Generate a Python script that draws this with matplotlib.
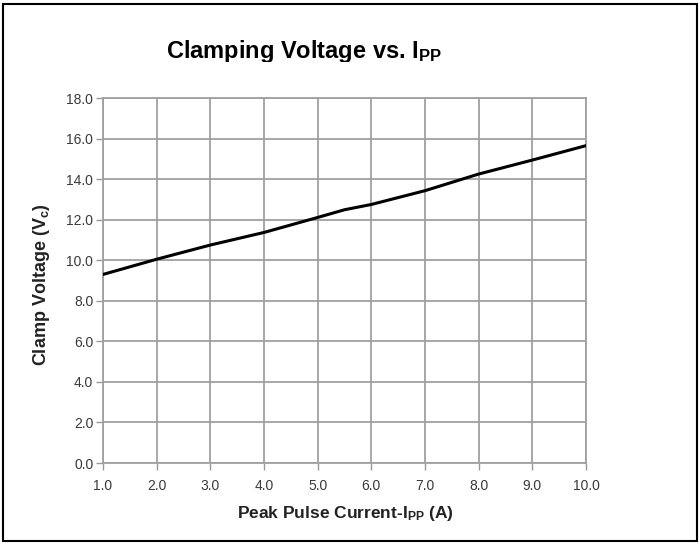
import matplotlib
matplotlib.use("Agg")
import matplotlib.pyplot as plt
from matplotlib.patches import Rectangle
from matplotlib.transforms import Bbox

plt.rcParams["font.family"] = ["Liberation Sans", "DejaVu Sans"]
plt.rcParams["mathtext.fontset"] = "custom"
plt.rcParams["mathtext.rm"] = "Liberation Sans:bold"
plt.rcParams["mathtext.default"] = "rm"

# peak pulse current (A) vs clamp voltage (V)
current = [1.0, 2.0, 3.0, 4.0, 5.0, 5.5, 6.0, 7.0, 7.5, 8.0, 9.0, 10.0]
clamp_v = [9.30, 10.05, 10.75, 11.37, 12.11, 12.49, 12.75, 13.43, 13.84, 14.25, 14.94, 15.65]

x_ticks = [1.0, 2.0, 3.0, 4.0, 5.0, 6.0, 7.0, 8.0, 9.0, 10.0]
y_ticks = [0.0, 2.0, 4.0, 6.0, 8.0, 10.0, 12.0, 14.0, 16.0, 18.0]

fig = plt.figure(figsize=(6.99, 5.43), dpi=100)
ax = fig.add_axes([0.1474, 0.1473, 0.6909, 0.6722])

ax.plot(current, clamp_v, color="black", linewidth=2.2, zorder=3)

ax.set_xlim(1.0, 10.0)
ax.set_ylim(0.0, 18.0)
ax.set_xticks(x_ticks)
ax.set_yticks(y_ticks)
ax.set_xticklabels(["%.1f" % v for v in x_ticks], fontsize=10, color="#3a3a3a")
ax.set_yticklabels(["%.1f" % v for v in y_ticks], fontsize=10, color="#3a3a3a")
ax.tick_params(direction="out", length=5, width=1, color="#999999")
ax.tick_params(axis="x", pad=6.5)
ax.tick_params(axis="y", pad=2)

ax.grid(True, color="#a0a0a0", linewidth=1.3)
for s in ax.spines.values():
    s.set_color("#a0a0a0")
    s.set_linewidth(1.3)

# axis labels placed in figure coords
fig.text(0.494, 0.0552, r"Peak Pulse Current-I$_{PP}$ (A)", fontsize=12.5,
         fontweight="bold", color="#222222", ha="center", va="center")
fig.text(0.060, 0.476, r"Clamp Voltage (V$_{c}$)", fontsize=13, fontweight="bold",
         color="#222222", ha="center", va="center", rotation=90)

# title, descenders clipped like the original
title = fig.text(0.435, 0.906, r"Clamping Voltage vs. I$_{PP}$", fontsize=17,
                 fontweight="bold", ha="center", va="center")
title.set_clip_box(Bbox.from_extents(0, 481, 699, 543))
title.set_clip_on(True)

# outer frame
fig.patches.append(Rectangle((0.004, 0.003), 0.993, 0.989, transform=fig.transFigure,
                             fill=False, edgecolor="black", linewidth=1.5))

fig.savefig("out.png", dpi=100)
